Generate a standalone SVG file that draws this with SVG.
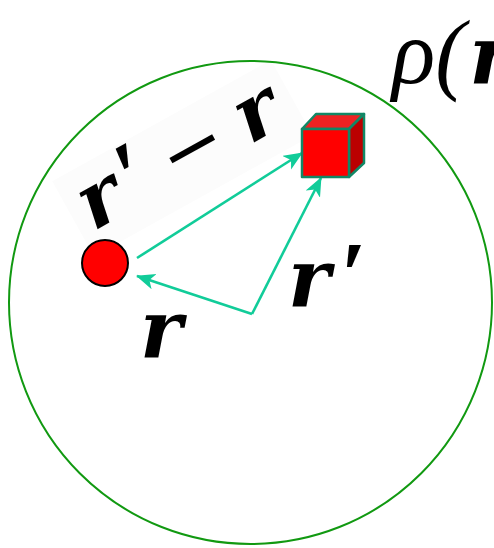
<svg xmlns="http://www.w3.org/2000/svg" width="494" height="548" viewBox="0 0 494 548">
<style>
.lbl{font-family:"DejaVu Serif","Liberation Serif",serif;font-style:italic;font-weight:bold;fill:#000}
.pr{font-family:"Liberation Serif","DejaVu Serif",serif;font-weight:bold}
.conn{fill:none;stroke:#11cc99;stroke-width:2.6}
</style>
<defs>
<marker id="ah" markerUnits="userSpaceOnUse" markerWidth="22" markerHeight="18" refX="18" refY="8" orient="auto">
<path d="M0,0 L19,8 L0,16 L5,8 Z" fill="#11cc99"/>
</marker>
</defs>
<rect width="494" height="548" fill="#fff"/>
<g id="label-diff">
<rect x="-122" y="-64" width="250" height="86" fill="#fcfcfc" transform="translate(190 178) rotate(-29)"/>
<text class="lbl" font-size="78" transform="translate(190 178) rotate(-29)" text-anchor="middle">r<tspan class="pr" dx="8" font-size="94">′</tspan><tspan dx="18" font-weight="normal" font-style="normal">−</tspan><tspan dx="20">r</tspan></text>
</g>
<g id="region">
<circle cx="250.5" cy="302.5" r="241.5" fill="none" stroke="#119911" stroke-width="2"/>
<text x="392" y="83" font-family="Liberation Serif,DejaVu Serif,serif" font-style="italic" font-size="90">ρ(<tspan font-family="DejaVu Serif,serif" font-weight="bold" font-size="80" dx="4">r</tspan></text>
</g>
<g id="connectors">
<path class="conn" d="M137,258 L302,153" marker-end="url(#ah)"/>
<path class="conn" d="M252,314 L321,178" marker-end="url(#ah)"/>
<path class="conn" d="M252,314 L137,276" marker-end="url(#ah)"/>
</g>
<g id="source">
<circle cx="105" cy="263" r="23" fill="#ff0000" stroke="#000" stroke-width="2"/>
</g>
<g id="cube">
<path d="M302,129 L316,114 L364,114 L349,129 Z" fill="#ee2222" stroke="#118866" stroke-width="2.5" stroke-linejoin="round"/>
<path d="M349,129 L364,114 L364,163 L349,177 Z" fill="#bb0000" stroke="#118866" stroke-width="2.5" stroke-linejoin="round"/>
<rect x="302" y="129" width="47" height="48" fill="#ff0000" stroke="#118866" stroke-width="2.5" stroke-linejoin="round"/>
</g>
<g id="label-rp">
<text class="lbl" x="288" y="306" font-size="80">r<tspan class="pr" dx="9" font-size="94">′</tspan></text>
</g>
<g id="label-r">
<text class="lbl" x="140" y="357" font-size="80">r</text>
</g>
</svg>
